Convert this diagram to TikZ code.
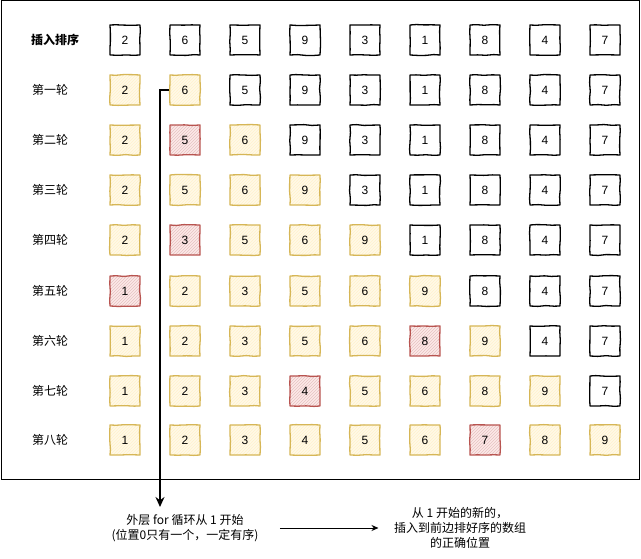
\documentclass[tikz,border=0pt]{standalone}
\usepackage{fontspec}
\setmainfont{Liberation Sans}
\newfontfamily\cjk{Noto Sans CJK SC}
\usetikzlibrary{arrows.meta,decorations.pathmorphing,patterns}

\definecolor{yline}{HTML}{D6B656}
\definecolor{yfill}{HTML}{FFF2CC}
\definecolor{rline}{HTML}{B85450}
\definecolor{rfill}{HTML}{F8CECC}

\begin{document}
\begin{tikzpicture}[
  x=1pt, y=-1pt,
  font=\fontsize{12}{14}\selectfont,
  >=Stealth,
  boxk/.style={draw=black, fill=white, line width=1.3pt, minimum size=30pt, inner sep=0pt,
    line join=round, decorate, decoration={random steps, segment length=8pt, amplitude=0.45pt}},
  boxy/.style={boxk, draw=yline, preaction={fill=yfill!45}, pattern=north east lines, pattern color=yfill},
  boxr/.style={boxk, draw=rline, preaction={fill=rfill!45}, pattern=north east lines, pattern color=rline!35},
  rowlbl/.style={font=\cjk\fontsize{12}{14}\selectfont},
  note/.style={font=\cjk\fontsize{12}{15}\selectfont, align=center}
]
  \useasboundingbox (0,0) rectangle (641,559);
  \draw[line width=1pt] (1,1) rectangle (639,479);

  % row labels
  \node[rowlbl, font=\cjk\bfseries\fontsize{12}{14}\selectfont] (l0) at (55,40) {插入排序};
  \node[rowlbl] (l1) at (50,90) {第一轮};
  \node[rowlbl] (l2) at (50,140) {第二轮};
  \node[rowlbl] (l3) at (50,190) {第三轮};
  \node[rowlbl] (l4) at (50,240) {第四轮};
  \node[rowlbl] (l5) at (50,291) {第五轮};
  \node[rowlbl] (l6) at (50,341) {第六轮};
  \node[rowlbl] (l7) at (50,391) {第七轮};
  \node[rowlbl] (l8) at (50,440) {第八轮};

  % one line of boxes per round: value/colour (k black, y sorted, r inserted)
  \foreach \v/\s [count=\c] in {2/k,6/k,5/k,9/k,3/k,1/k,8/k,4/k,7/k}
    \node[box\s] (r0c\c) at (65+60*\c,40) {\v};
  \foreach \v/\s [count=\c] in {2/y,6/y,5/k,9/k,3/k,1/k,8/k,4/k,7/k}
    \node[box\s] (r1c\c) at (65+60*\c,90) {\v};
  \foreach \v/\s [count=\c] in {2/y,5/r,6/y,9/k,3/k,1/k,8/k,4/k,7/k}
    \node[box\s] (r2c\c) at (65+60*\c,140) {\v};
  \foreach \v/\s [count=\c] in {2/y,5/y,6/y,9/y,3/k,1/k,8/k,4/k,7/k}
    \node[box\s] (r3c\c) at (65+60*\c,190) {\v};
  \foreach \v/\s [count=\c] in {2/y,3/r,5/y,6/y,9/y,1/k,8/k,4/k,7/k}
    \node[box\s] (r4c\c) at (65+60*\c,240) {\v};
  \foreach \v/\s [count=\c] in {1/r,2/y,3/y,5/y,6/y,9/y,8/k,4/k,7/k}
    \node[box\s] (r5c\c) at (65+60*\c,291) {\v};
  \foreach \v/\s [count=\c] in {1/y,2/y,3/y,5/y,6/y,8/r,9/y,4/k,7/k}
    \node[box\s] (r6c\c) at (65+60*\c,341) {\v};
  \foreach \v/\s [count=\c] in {1/y,2/y,3/y,4/r,5/y,6/y,8/y,9/y,7/k}
    \node[box\s] (r7c\c) at (65+60*\c,391) {\v};
  \foreach \v/\s [count=\c] in {1/y,2/y,3/y,4/y,5/y,6/y,7/r,8/y,9/y}
    \node[box\s] (r8c\c) at (65+60*\c,440) {\v};

  % notes under the frame
  \node[note] (outer) at (185,528) {外层 for 循环从 1 开始\\(位置0只有一个，一定有序)};
  \node[note] (insert) at (460,528) {从 1 开始的新的，\\插入到前边排好序的数组\\的正确位置};
  \coordinate (drop) at (160,507);

  \draw[-{Stealth[length=10pt,width=9pt]}, line width=1.6pt] (r1c2.west) -| (drop);
  \draw[-{Stealth[length=7pt,width=6pt]}, line width=0.9pt] ([xshift=18pt]outer.east) -- ([xshift=-12pt]insert.west);
\end{tikzpicture}
\end{document}
